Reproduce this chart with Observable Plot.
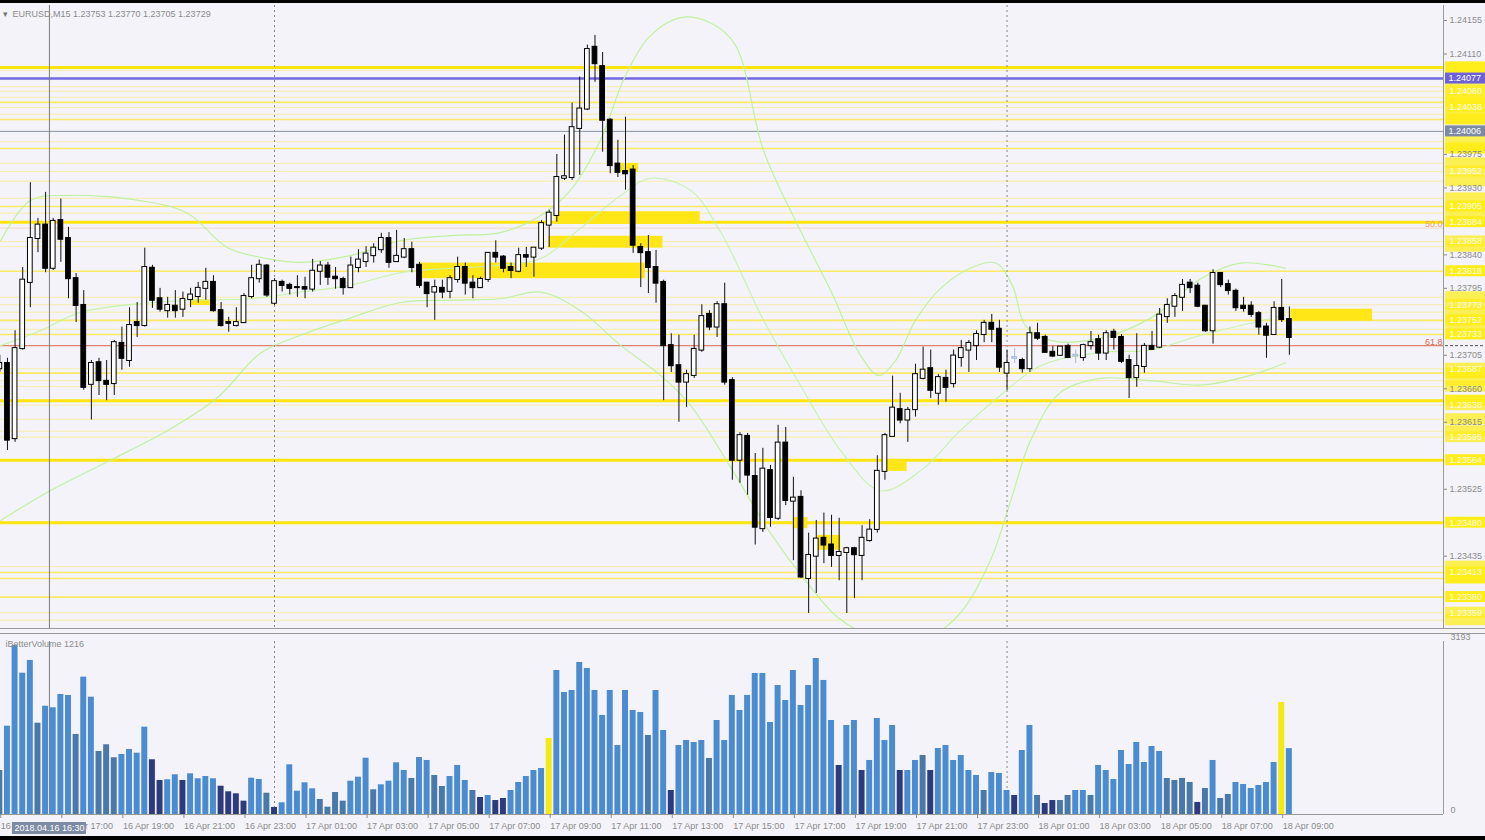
<!DOCTYPE html>
<html><head><meta charset="utf-8">
<script src="https://cdn.jsdelivr.net/npm/d3@7"></script>
<script src="https://cdn.jsdelivr.net/npm/@observablehq/plot@0.6"></script>
<style>
html,body{margin:0;padding:0;background:#f3f3f9;}
#chart{position:relative;width:1485px;height:840px;overflow:hidden;background:#f3f3f9;}
#chart svg{position:absolute;left:0;}
.strip{position:absolute;left:0;width:1485px;background:#000;}
</style></head><body><div id="chart"></div>
<script>
// ---------------- DATA ----------------
const symbol = "EURUSD,M15";
const indicatorName = "iBetterVolume";
const crosshairLabel = "2018.04.16 16:30";
// 15-minute candles from 16 Apr 15:00 (index 0) to 18 Apr 09:15 (index 169): [open, high, low, close]
const candles = [
[1.23687,1.23705,1.23682,1.23694],[1.23694,1.23701,1.23577,1.23591],[1.23593,1.23738,1.23588,1.23714],[1.23714,1.23823,1.23712,1.23806],[1.23803,1.23937,1.23769,1.23862],
[1.23862,1.23889,1.23843,1.23880],[1.23880,1.23924,1.23816,1.23822],[1.23822,1.23889,1.23819,1.23885],[1.23886,1.23915,1.23830,1.23861],[1.23862,1.23877,1.23781,1.23808],
[1.23808,1.23815,1.23749,1.23772],[1.23772,1.23792,1.23658,1.23662],[1.23666,1.23698,1.23618,1.23694],[1.23695,1.23701,1.23651,1.23671],[1.23670,1.23698,1.23644,1.23666],
[1.23667,1.23725,1.23651,1.23722],[1.23721,1.23743,1.23685,1.23701],[1.23698,1.23769,1.23689,1.23745],[1.23749,1.23776,1.23729,1.23745],[1.23745,1.23849,1.23743,1.23823],
[1.23822,1.23826,1.23768,1.23779],[1.23781,1.23795,1.23763,1.23767],[1.23765,1.23783,1.23755,1.23772],[1.23771,1.23792,1.23755,1.23765],[1.23767,1.23790,1.23756,1.23780],
[1.23780,1.23795,1.23769,1.23786],[1.23784,1.23803,1.23775,1.23795],[1.23795,1.23822,1.23779,1.23803],[1.23803,1.23812,1.23763,1.23765],[1.23765,1.23776,1.23743,1.23745],
[1.23749,1.23756,1.23736,1.23748],[1.23745,1.23769,1.23743,1.23749],[1.23749,1.23788,1.23748,1.23784],[1.23784,1.23826,1.23781,1.23808],[1.23808,1.23833,1.23802,1.23826],
[1.23825,1.23827,1.23783,1.23786],[1.23775,1.23808,1.23772,1.23804],[1.23803,1.23806,1.23790,1.23799],[1.23799,1.23802,1.23786,1.23795],[1.23796,1.23812,1.23783,1.23796],
[1.23796,1.23810,1.23781,1.23794],[1.23794,1.23834,1.23790,1.23818],[1.23818,1.23831,1.23799,1.23825],[1.23825,1.23830,1.23799,1.23810],[1.23810,1.23823,1.23794,1.23808],
[1.23807,1.23810,1.23786,1.23796],[1.23796,1.23837,1.23795,1.23825],[1.23823,1.23847,1.23816,1.23833],[1.23831,1.23851,1.23823,1.23841],[1.23839,1.23855,1.23829,1.23849],
[1.23847,1.23869,1.23842,1.23862],[1.23862,1.23870,1.23822,1.23830],[1.23831,1.23873,1.23830,1.23838],[1.23837,1.23862,1.23835,1.23847],[1.23847,1.23857,1.23816,1.23823],
[1.23826,1.23830,1.23795,1.23799],[1.23802,1.23803,1.23769,1.23788],[1.23790,1.23806,1.23752,1.23796],[1.23795,1.23806,1.23781,1.23790],[1.23791,1.23812,1.23781,1.23808],
[1.23807,1.23837,1.23802,1.23823],[1.23823,1.23829,1.23786,1.23802],[1.23802,1.23812,1.23781,1.23796],[1.23796,1.23810,1.23795,1.23807],[1.23807,1.23843,1.23803,1.23842],
[1.23842,1.23859,1.23829,1.23837],[1.23837,1.23839,1.23816,1.23822],[1.23823,1.23829,1.23808,1.23819],[1.23818,1.23849,1.23816,1.23839],[1.23839,1.23850,1.23823,1.23837],
[1.23837,1.23850,1.23810,1.23849],[1.23849,1.23886,1.23846,1.23882],[1.23880,1.23900,1.23850,1.23896],[1.23893,1.23975,1.23884,1.23944],[1.23943,1.24001,1.23940,1.23945],
[1.23944,1.24044,1.23940,1.24011],[1.24010,1.24079,1.23947,1.24036],[1.24036,1.24122,1.24034,1.24116],[1.24119,1.24135,1.24072,1.24097],[1.24093,1.24112,1.23978,1.24021],
[1.24021,1.24023,1.23949,1.23960],[1.23962,1.23994,1.23944,1.23951],[1.23952,1.24025,1.23927,1.23949],[1.23954,1.23960,1.23842,1.23853],[1.23850,1.23855,1.23796,1.23843],
[1.23843,1.23866,1.23788,1.23823],[1.23823,1.23846,1.23775,1.23802],[1.23803,1.23806,1.23644,1.23718],[1.23718,1.23734,1.23682,1.23691],[1.23691,1.23732,1.23615,1.23669],
[1.23669,1.23685,1.23635,1.23679],[1.23678,1.23732,1.23674,1.23713],[1.23712,1.23773,1.23709,1.23757],[1.23760,1.23765,1.23738,1.23743],[1.23743,1.23777,1.23729,1.23773],
[1.23773,1.23802,1.23665,1.23669],[1.23671,1.23675,1.23537,1.23564],[1.23564,1.23601,1.23533,1.23597],[1.23596,1.23600,1.23517,1.23544],[1.23542,1.23573,1.23450,1.23474],
[1.23472,1.23580,1.23467,1.23552],[1.23550,1.23557,1.23474,1.23487],[1.23486,1.23611,1.23483,1.23587],[1.23587,1.23608,1.23503,1.23510],[1.23509,1.23541,1.23429,1.23513],
[1.23514,1.23523,1.23405,1.23407],[1.23405,1.23466,1.23358,1.23436],[1.23435,1.23483,1.23385,1.23458],[1.23459,1.23493,1.23425,1.23450],[1.23450,1.23490,1.23420,1.23436],
[1.23436,1.23486,1.23402,1.23440],[1.23440,1.23447,1.23358,1.23445],[1.23445,1.23447,1.23378,1.23437],[1.23436,1.23476,1.23402,1.23459],[1.23456,1.23484,1.23454,1.23470],
[1.23471,1.23570,1.23466,1.23549],[1.23549,1.23600,1.23537,1.23597],[1.23596,1.23677,1.23595,1.23634],[1.23632,1.23654,1.23613,1.23618],[1.23618,1.23635,1.23588,1.23631],
[1.23632,1.23693,1.23622,1.23679],[1.23674,1.23716,1.23672,1.23685],[1.23687,1.23712,1.23647,1.23658],[1.23654,1.23679,1.23638,1.23675],[1.23674,1.23685,1.23642,1.23662],
[1.23667,1.23712,1.23661,1.23704],[1.23702,1.23725,1.23689,1.23714],[1.23712,1.23725,1.23682,1.23721],[1.23718,1.23738,1.23698,1.23733],[1.23733,1.23752,1.23722,1.23748],
[1.23748,1.23760,1.23722,1.23740],[1.23740,1.23752,1.23682,1.23689],[1.23681,1.23712,1.23658,1.23694],[1.23701,1.23714,1.23694,1.23702],[1.23698,1.23701,1.23681,1.23687],
[1.23687,1.23743,1.23682,1.23734],[1.23734,1.23748,1.23725,1.23728],[1.23729,1.23732,1.23708,1.23709],[1.23709,1.23717,1.23702,1.23704],[1.23705,1.23717,1.23704,1.23716],
[1.23717,1.23720,1.23701,1.23702],[1.23705,1.23712,1.23694,1.23704],[1.23702,1.23720,1.23697,1.23718],[1.23718,1.23737,1.23712,1.23722],[1.23726,1.23732,1.23698,1.23708],
[1.23708,1.23738,1.23698,1.23734],[1.23736,1.23740,1.23712,1.23729],[1.23729,1.23733,1.23694,1.23697],[1.23698,1.23705,1.23647,1.23675],[1.23675,1.23734,1.23662,1.23690],
[1.23690,1.23721,1.23681,1.23717],[1.23717,1.23737,1.23712,1.23713],[1.23716,1.23768,1.23714,1.23759],[1.23757,1.23781,1.23748,1.23772],[1.23771,1.23788,1.23756,1.23784],
[1.23783,1.23807,1.23764,1.23799],[1.23802,1.23807,1.23788,1.23796],[1.23798,1.23802,1.23769,1.23771],[1.23771,1.23772,1.23736,1.23738],[1.23738,1.23820,1.23720,1.23815],
[1.23815,1.23816,1.23796,1.23800],[1.23800,1.23806,1.23786,1.23792],[1.23791,1.23794,1.23764,1.23769],[1.23771,1.23783,1.23763,1.23768],[1.23771,1.23777,1.23756,1.23760],
[1.23761,1.23764,1.23732,1.23743],[1.23743,1.23748,1.23701,1.23732],[1.23733,1.23777,1.23732,1.23768],[1.23768,1.23807,1.23749,1.23753],[1.23753,1.23770,1.23705,1.23729]
];
const paleCandles = [133, 141];

const volumes = [
812,1630,3120,2608,2843,1685,1999,1970,2215,2197,
1477,2535,2165,1163,1287,1047,1108,1200,1132,1612,
1010,628,641,733,628,751,659,701,659,522,
419,382,246,670,646,393,130,216,917,430,
585,474,277,135,406,246,615,689,1039,456,
548,615,954,812,665,1052,997,720,517,701,
905,628,443,314,351,258,295,443,591,701,
812,849,1403,2658,2252,2289,2806,2695,2289,1828,
2289,1274,2289,1920,1883,1458,2289,1551,443,1274,
1366,1329,1366,1034,1735,1366,2197,1920,2197,2603,
2603,1698,2381,2104,2658,2012,2381,2880,2474,1735,
905,1643,1735,812,997,1772,1366,1643,812,812,
997,1089,812,1218,1274,997,1089,812,720,443,
775,757,443,351,1181,1643,351,203,258,258,
351,443,443,351,905,812,646,1181,923,1329,
960,1255,1163,665,628,665,591,222,480,997,
295,369,591,554,480,535,591,960,2068,1216];
// b = normal, m = muted, d = low, y = climax
const volumeKinds = ("mbbbbmbbbb"+"mbbmmmbbbb"+"ddbbdbbbbd"+"dddbbmdbbb"+"bbmmmmbbbm"+
  "bbbbmbbmmb"+"bbmdbddbbb"+"bbybbbbbbb"+"bbbbbmbbdb"+"bbbmbbbbbb"+"bbbbbbbbbb"+
  "dbbdbbbbdb"+"bmdbbbbbbm"+"bbbdbbmddm"+"mbbmbbbbbb"+"bbbmmmmdmb"+"mmbbbbbbyb").split("");
const volumeMax = 3193;

const timeTicks = [0,8,16,24,32,40,48,56,64,72,80,88,96,104,112,120,128,136,144,152,160,168];
const timeLabels = ["16 Apr 15:00","16 Apr 17:00","16 Apr 19:00","16 Apr 21:00","16 Apr 23:00",
  "17 Apr 01:00","17 Apr 03:00","17 Apr 05:00","17 Apr 07:00","17 Apr 09:00","17 Apr 11:00",
  "17 Apr 13:00","17 Apr 15:00","17 Apr 17:00","17 Apr 19:00","17 Apr 21:00","17 Apr 23:00",
  "18 Apr 01:00","18 Apr 03:00","18 Apr 05:00","18 Apr 07:00","18 Apr 09:00"];
const daySeparators = [36, 132];
const crosshairIndex = 6.5;
const crosshairPrice = 1.24006;

const priceTicks = [1.24155,1.24110,1.23975,1.23930,1.23840,1.23795,1.23705,1.23660,1.23615,1.23525,1.23435];

const levelPrices = [1.24092,1.24088,1.24066,1.24060,1.24052,1.24045,1.24038,1.24029,1.24022,1.23992,
  1.23983,1.23963,1.23952,1.23939,1.23916,1.23905,1.23896,1.23884,1.23858,1.23851,
  1.23818,1.23783,1.23773,1.23763,1.23752,1.23740,1.23733,1.23687,1.23681,1.23671,
  1.23663,1.23644,1.23638,1.23619,1.23603,1.23595,1.23564,1.23480,1.23421,1.23413,
  1.23405,1.23380,1.23359,1.23349];
const levelWeights = [3,1,1,1,1,2,1,1,2,1, 2,1,1,1,1,2,1,3,1,1, 2,1,1,1,2,1,2,1,2,1, 1,3,1,1,1,1,3,3,1,2, 2,2,1,1];
const purpleLevel = 1.24077;
const fibLevels = [{p: 1.23876, t: "50.0"}, {p: 1.23718, t: "61.8"}];

const zoneStart = [72.8, 71.9, 55.1, 25.0, 169.2, 115.8, 104.0, 107.2, 81.4];
const zoneEnd   = [91.8, 86.9, 84.6, 27.6, 179.9, 118.9, 105.9, 110.2, 83.7];
const zoneHigh  = [1.23898,1.23865,1.23829,1.23780,1.23767,1.23564,1.23487,1.23463,1.23963];
const zoneLow   = [1.23881,1.23849,1.23808,1.23772,1.23751,1.23549,1.23472,1.23443,1.23951];

const bbUpperX = [0.1,4.0,8.9,18.4,24.6,29.8,35.1,39.4,45.9,52.5,59.1,65.6,70.9,74.8,78.7,82.0,85.3,89.2,93.1,96.4,100.1,104.9,108.9,112.8,115.2,117.4,120.0,123.3,127.2,130.5,132.7,134.4,137.7,144.3,150.8,157.4,162.6,168.5];
const bbUpperY = [1.23859,1.23913,1.23920,1.23913,1.23896,1.23850,1.23835,1.23830,1.23839,1.23859,1.23866,1.23870,1.23893,1.23927,1.23994,1.24081,1.24135,1.24159,1.24152,1.24122,1.23980,1.23873,1.23792,1.23705,1.23678,1.23698,1.23752,1.23795,1.23822,1.23829,1.23799,1.23745,1.23725,1.23728,1.23755,1.23808,1.23829,1.23822];
const bbMidX = [0.1,5.3,10.6,19.0,25.0,32.9,39.4,45.9,52.5,59.1,65.6,70.9,76.1,81.4,85.3,90.5,94.5,100.1,104.9,110.2,115.4,120.7,125.9,131.1,136.4,144.3,150.8,157.4,168.5];
const bbMidY = [1.23718,1.23738,1.23763,1.23775,1.23779,1.23781,1.23790,1.23799,1.23816,1.23822,1.23826,1.23835,1.23876,1.23920,1.23943,1.23927,1.23870,1.23752,1.23665,1.23577,1.23523,1.23550,1.23604,1.23651,1.23691,1.23709,1.23712,1.23732,1.23759];
const bbLowX = [0.1,6.6,14.5,22.0,28.5,34.2,39.4,45.9,52.5,59.1,65.6,70.9,76.1,81.4,86.6,90.5,95.8,101.0,105.9,109.8,114.1,122.0,125.9,129.8,132.5,135.1,139.0,144.3,150.8,157.4,163.9,168.5];
const bbLowY = [1.23483,1.23523,1.23564,1.23604,1.23648,1.23708,1.23732,1.23755,1.23776,1.23779,1.23781,1.23790,1.23765,1.23718,1.23678,1.23638,1.23554,1.23466,1.23398,1.23353,1.23329,1.23329,1.23359,1.23429,1.23510,1.23591,1.23655,1.23674,1.23671,1.23665,1.23678,1.23695];

// ---------------- BUILD ----------------
(function () {
const W = 1485, AXW = 42;
const xDomain = [0.09, 189.2];
const xMax = xDomain[1];
const priceDomain = [1.233378, 1.241752];
const FONT = "'Liberation Sans', Arial, sans-serif";
const GRAY = "#8c8c8c";

const cd = candles.map(([o,h,l,c], i) => ({i, o, h, l, c, pale: paleCandles.includes(i)}));
const levels = levelPrices.map((p, k) => ({p, w: levelWeights[k]}));
// price text only where it does not collide with another label
const occupied = [...priceTicks, purpleLevel, crosshairPrice];
const boxTexts = [];
for (const l of [...levels].sort((a, b) => b.p - a.p)) {
  if (occupied.every(q => Math.abs(q - l.p) >= 0.00016)) { boxTexts.push(l); occupied.push(l.p); }
}
const zones = zoneStart.map((s, k) => ({x1: s, x2: zoneEnd[k], y1: zoneLow[k], y2: zoneHigh[k]}));
const band = (xs, ys) => xs.map((x, k) => ({x, y: ys[k]}));
const last = candles[candles.length - 1];
const title = `${symbol} ${last.map(v => v.toFixed(5)).join(" ")}`;
const labelMap = new Map(timeTicks.map((t, k) => [t, timeLabels[k]]));
const vd = volumes.map((v, i) => ({i, v, k: volumeKinds[i]}));
const kindColor = {b: "#4b8bd0", m: "#4a78a8", d: "#2d3b7e", y: "#f4ea12"};
const wW = [1, 1.6, 3], wO = [0.32, 0.6, 0.95];

const pricePlot = Plot.plot({
  width: W, height: 630, marginLeft: 0, marginRight: AXW, marginTop: 5, marginBottom: 2,
  x: {domain: xDomain, axis: null},
  y: {domain: priceDomain, axis: null},
  style: {background: "transparent", fontFamily: FONT, fontSize: "9px", color: GRAY, overflow: "visible"},
  marks: [
    Plot.ruleY(levels, {y: "p", stroke: "#ffe400", strokeWidth: d => wW[d.w - 1], strokeOpacity: d => wO[d.w - 1]}),
    Plot.ruleY([fibLevels[0]], {y: "p", stroke: "#f3c39a", strokeOpacity: 0.5}),
    Plot.rect(zones, {x1: "x1", x2: "x2", y1: "y1", y2: "y2", fill: "#ffe617"}),
    Plot.ruleY([crosshairPrice], {stroke: "#8a94a6", strokeWidth: 1}),
    Plot.ruleY([purpleLevel], {stroke: "#7468e0", strokeWidth: 2.4}),
    Plot.ruleY([fibLevels[1]], {y: "p", stroke: "#dd8470", strokeWidth: 1.2}),
    Plot.line(band(bbUpperX, bbUpperY), {x: "x", y: "y", stroke: "#c2f0a0", strokeWidth: 1.2, curve: "catmull-rom", clip: true}),
    Plot.line(band(bbMidX, bbMidY), {x: "x", y: "y", stroke: "#c8f2aa", strokeWidth: 1.1, curve: "catmull-rom", clip: true}),
    Plot.line(band(bbLowX, bbLowY), {x: "x", y: "y", stroke: "#c2f0a0", strokeWidth: 1.2, curve: "catmull-rom", clip: true}),
    Plot.ruleX(daySeparators, {stroke: "#8a8a8a", strokeDasharray: "2,3"}),
    Plot.ruleX([crosshairIndex], {stroke: "#7c7c7c"}),
    Plot.ruleX(cd, {x: "i", y1: "l", y2: "h", stroke: d => d.pale ? "#a9bcd8" : "#111", clip: true}),
    Plot.rect(cd, {x1: d => d.i - 0.31, x2: d => d.i + 0.31, y1: "o", y2: "c",
      insetTop: -0.5, insetBottom: -0.5,
      fill: d => d.pale ? "#c8d4ea" : (d.c > d.o ? "#ffffff" : "#000000"),
      stroke: d => d.pale ? "#a9bcd8" : "#000", strokeWidth: 1, clip: true}),
    Plot.ruleX([xMax], {stroke: "#9a9a9a"}),
    Plot.ruleY([priceDomain[0]], {stroke: "#9a9a9a", insetRight: -AXW}),
    Plot.rect(levels, {x1: () => xMax, x2: () => xMax, y1: "p", y2: "p", insetLeft: 2, insetRight: -AXW,
      insetTop: -5.5, insetBottom: -5.5, fill: "#ffee1c", fillOpacity: d => d.w === 1 ? 0.75 : 1}),
    Plot.text(boxTexts, {x: () => xMax, y: "p", text: d => d.p.toFixed(5), dx: 6, textAnchor: "start", fill: "#fffbe0", fontSize: 9}),
    Plot.axisY(priceTicks, {anchor: "right", label: null, tickSize: 3, tickPadding: 3, tickFormat: d => d.toFixed(5), fontSize: 9}),
    Plot.rect([purpleLevel], {x1: () => xMax, x2: () => xMax, y1: d => d, y2: d => d, insetLeft: 2, insetRight: -AXW,
      insetTop: -5.5, insetBottom: -5.5, fill: "#6f60d8"}),
    Plot.text([purpleLevel], {x: () => xMax, y: d => d, text: d => d.toFixed(5), dx: 5, textAnchor: "start", fill: "#fff", fontSize: 9}),
    Plot.rect([crosshairPrice], {x1: () => xMax, x2: () => xMax, y1: d => d, y2: d => d, insetLeft: 2, insetRight: -AXW,
      insetTop: -5.5, insetBottom: -5.5, fill: "#7d8aa4"}),
    Plot.text([crosshairPrice], {x: () => xMax, y: d => d, text: d => d.toFixed(5), dx: 5, textAnchor: "start", fill: "#fff", fontSize: 9}),
    Plot.text(fibLevels, {x: () => xMax, y: "p", text: "t", dx: -1, dy: -4, textAnchor: "end", fill: d => d.t === "50.0" ? "#f0a070" : "#e06a50", fontSize: 9}),
    Plot.ruleY([fibLevels[1]], {y: "p", x1: () => xMax, x2: () => xMax, insetLeft: 2, insetRight: -AXW, stroke: "#555", strokeDasharray: "3,2"}),
    Plot.text(["▾"], {frameAnchor: "top-left", dx: 2, dy: 9, lineAnchor: "middle", textAnchor: "start", fill: "#777", fontSize: 9}),
    Plot.text([title], {frameAnchor: "top-left", dx: 12, dy: 9, lineAnchor: "middle", textAnchor: "start", fill: GRAY, fontSize: 9})
  ]
});
pricePlot.style.top = "0px";

const volumePlot = Plot.plot({
  width: W, height: 210, marginLeft: 0, marginRight: AXW, marginTop: 11, marginBottom: 26,
  x: {domain: xDomain, axis: null},
  y: {domain: [0, volumeMax], axis: null},
  style: {background: "transparent", fontFamily: FONT, fontSize: "9px", color: GRAY, overflow: "visible"},
  marks: [
    Plot.ruleY([volumeMax], {stroke: "#9a9a9a", dy: -8, insetRight: -AXW}),
    Plot.ruleX(daySeparators, {stroke: "#8a8a8a", strokeDasharray: "2,3"}),
    Plot.ruleX([crosshairIndex], {stroke: "#7c7c7c"}),
    Plot.rectY(vd, {x1: d => d.i - 0.39, x2: d => d.i + 0.39, y1: 0, y2: "v", fill: d => kindColor[d.k], clip: true}),
    Plot.ruleX([xMax], {stroke: "#9a9a9a"}),
    Plot.ruleY([0], {stroke: "#9a9a9a"}),
    Plot.axisX(timeTicks, {anchor: "bottom", label: null, tickSize: 4, tickPadding: 4, textAnchor: "start", dx: 1, tickFormat: d => labelMap.get(d), fontSize: 9}),
    Plot.rect([crosshairIndex], {x1: d => d, x2: d => d, y1: () => 0, y2: () => 0, insetLeft: -37, insetRight: -37,
      insetTop: 8, insetBottom: -20, fill: "#7d8aa4"}),
    Plot.text([crosshairLabel], {x: () => crosshairIndex, y: () => 0, dy: 14, lineAnchor: "middle", fill: "#fff", fontSize: 9}),
    Plot.axisY([0, volumeMax], {anchor: "right", label: null, tickSize: 0, tickPadding: 7, dy: -4, tickFormat: d => String(d), fontSize: 9}),
    Plot.text([`${indicatorName} ${volumes[volumes.length - 1]}`], {frameAnchor: "top-left", dx: 5, dy: 3, lineAnchor: "middle", textAnchor: "start", fill: GRAY, fontSize: 9})
  ]
});
volumePlot.style.top = "630px";

const root = document.getElementById("chart");
root.appendChild(pricePlot);
root.appendChild(volumePlot);
const topStrip = document.createElement("div"); topStrip.className = "strip"; topStrip.style.top = "0px"; topStrip.style.height = "3px"; root.appendChild(topStrip);
const bottomStrip = document.createElement("div"); bottomStrip.className = "strip"; bottomStrip.style.top = "836px"; bottomStrip.style.height = "4px"; root.appendChild(bottomStrip);
})();
</script></body></html>
